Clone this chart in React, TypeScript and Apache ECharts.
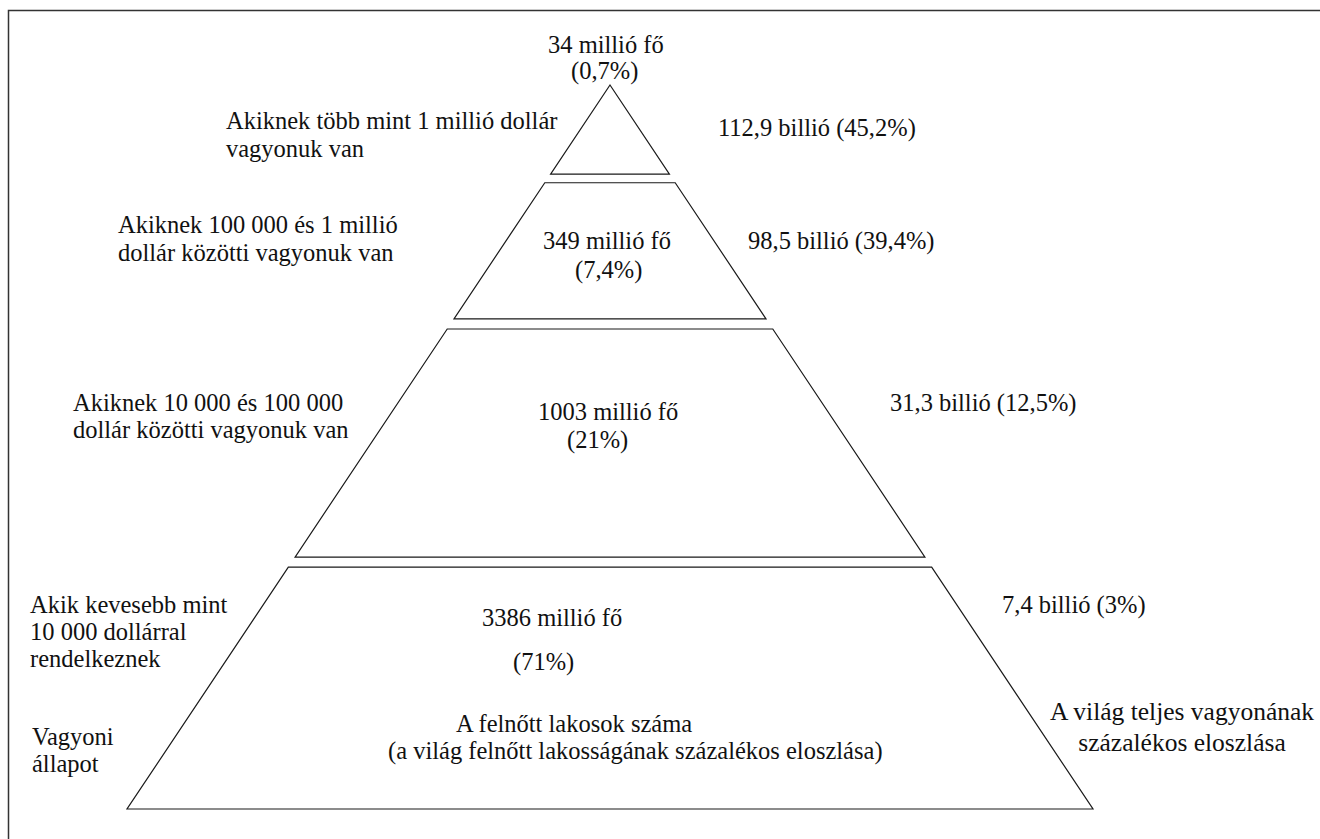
import React, { useEffect, useRef } from "react";
import * as echarts from "echarts";

// Layers from top (richest) to bottom
const wealthGroups = [
  ["Akiknek több mint 1 millió dollár", "vagyonuk van"],
  ["Akiknek 100 000 és 1 millió", "dollár közötti vagyonuk van"],
  ["Akiknek 10 000 és 100 000", "dollár közötti vagyonuk van"],
  ["Akik kevesebb mint", "10 000 dollárral", "rendelkeznek"],
];
const adultsMillions = [34, 349, 1003, 3386];
const adultsSharePct = [0.7, 7.4, 21, 71];
const wealthTrillions = [112.9, 98.5, 31.3, 7.4];
const wealthSharePct = [45.2, 39.4, 12.5, 3];
// pyramid bands: [top depth, bottom depth] on a 0..100 depth scale (apex = 0)
const bandTop = [0, 13.5, 33.7, 66.6];
const bandBottom = [12.3, 32.3, 65.2, 100];

const axisTitleLeft = ["Vagyoni", "állapot"];
const axisTitleCenter = ["A felnőtt lakosok száma", "(a világ felnőtt lakosságának százalékos eloszlása)"];
const axisTitleRight = ["A világ teljes vagyonának", "százalékos eloszlása"];

const hu = (v: number) => String(v).replace(".", ",");

const FONT = "Liberation Serif";
const FS = 24.5;
const TXT = "#111";

function txt(text: string, x: number, y: number, align: string = "left", size: number = FS) {
  return {
    type: "text",
    x,
    y,
    z: 100,
    silent: true,
    style: {
      text,
      fill: TXT,
      fontFamily: FONT,
      fontSize: size,
      align,
      verticalAlign: "middle",
    },
  };
}

export default function App() {
  const ref = useRef<HTMLDivElement>(null);
  useEffect(() => {
    if (!ref.current) return;
    const chart = echarts.init(ref.current, null, { renderer: "svg" });

    const g: any[] = [];
    g.push({
      type: "rect",
      silent: true,
      z: 100,
      shape: { x: 8.5, y: 10.5, width: 1340, height: 860 },
      style: { fill: "none", stroke: "#333", lineWidth: 1.5 },
    });

    // left-side group labels
    const leftPos = [
      { x: 226, y: [120, 148] },
      { x: 118, y: [224, 252] },
      { x: 73, y: [402, 429] },
      { x: 30, y: [604, 631, 658] },
    ];
    wealthGroups.forEach((lines, i) => {
      lines.forEach((l, j) => g.push(txt(l, leftPos[i].x, leftPos[i].y[j])));
    });

    // population labels
    const popPos = [
      { a: [548, 44], b: [571, 70] },
      { a: [543, 240], b: [575, 269] },
      { a: [538, 411], b: [567, 439] },
      { a: [482, 617], b: [513, 661] },
    ];
    adultsMillions.forEach((m, i) => {
      g.push(txt(`${m} millió fő`, popPos[i].a[0], popPos[i].a[1]));
      g.push(txt(`(${hu(adultsSharePct[i])}%)`, popPos[i].b[0], popPos[i].b[1]));
    });

    // wealth labels
    const wPos = [
      [718, 127],
      [748, 240],
      [890, 402],
      [1002, 604],
    ];
    wealthTrillions.forEach((w, i) => {
      g.push(txt(`${hu(w)} billió (${hu(wealthSharePct[i])}%)`, wPos[i][0], wPos[i][1]));
    });

    g.push(txt(axisTitleLeft[0], 32, 736));
    g.push(txt(axisTitleLeft[1], 32, 763));
    g.push(txt(axisTitleCenter[0], 456, 723));
    g.push(txt(axisTitleCenter[1], 388, 750));
    g.push(txt(axisTitleRight[0], 1182, 711, "center", 25.5));
    g.push(txt(axisTitleRight[1], 1182, 742, "center", 25.5));

    chart.setOption({
      animation: false,
      backgroundColor: "#fff",
      grid: { left: 127, top: 85, width: 966, height: 724 },
      xAxis: { type: "value", min: -100, max: 100, show: false },
      yAxis: { type: "value", min: 0, max: 100, inverse: true, show: false },
      series: [
        {
          type: "custom",
          clip: false,
          silent: true,
          z: 2,
          data: bandTop.map((t, i) => [t, bandBottom[i]]),
          renderItem: (params: any, api: any) => {
            const t = api.value(0);
            const b = api.value(1);
            const pts = [
              api.coord([-t, t]),
              api.coord([t, t]),
              api.coord([b, b]),
              api.coord([-b, b]),
            ];
            return {
              type: "polygon",
              shape: { points: pts },
              style: { fill: "#fff", stroke: "#1a1a1a", lineWidth: 1.2 },
            };
          },
        },
      ],
      graphic: g,
    });
    return () => chart.dispose();
  }, []);
  return (
    <div
      ref={ref}
      style={{ position: "fixed", left: 0, top: 0, width: 1320, height: 839 }}
    />
  );
}
